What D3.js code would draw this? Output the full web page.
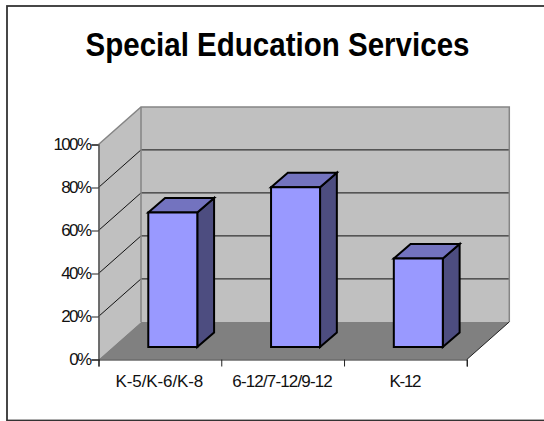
<!DOCTYPE html>
<html><head><meta charset="utf-8">
<script src="https://cdn.jsdelivr.net/npm/d3@7/dist/d3.min.js"></script>
<style>html,body{margin:0;padding:0;background:#fff}svg{display:block}text{font-family:"Liberation Sans",Arial,sans-serif}</style>
</head><body><svg id="c" width="544" height="421"></svg>
<script>
const titleText = "Special Education Services";
const categories = ["K-5/K-6/K-8", "6-12/7-12/9-12", "K-12"];
const values = [62.6, 74.3, 41.2];
const tickValues = [0, 20, 40, 60, 80, 100];

const svg = d3.select("#c");
const x = d3.scaleBand().domain(categories).range([98.5, 466.8]);
const y = d3.scaleLinear().domain([0, 100]).range([359.5, 144.5]);
const DX = 42.5, DY = -37.6;          // wall depth
const barW = 49, sX = 12.9, sY = -12.4, bDX = 16.8, bDY = -14.6;
const poly = (pts, fill, stroke, sw) => svg.append("polygon")
  .attr("points", pts.map(p => p.join(",")).join(" "))
  .attr("fill", fill).attr("stroke", stroke || "none").attr("stroke-width", sw || 0).attr("stroke-linejoin", "miter");

svg.append("rect").attr("x", 7).attr("y", 6).attr("width", 600).attr("height", 414.5)
  .attr("fill", "#fff").attr("stroke", "#333").attr("stroke-width", 1.8);

svg.append("text").attr("x", 277.5).attr("y", 56).attr("text-anchor", "middle")
  .attr("font-size", 33.5).attr("font-weight", "bold").attr("fill", "#000")
  .attr("textLength", 384).attr("lengthAdjust", "spacingAndGlyphs").text(titleText);

const x0 = x.range()[0], x1 = x.range()[1], y0 = y(0), yT = y(100);
// side wall, back wall, floor
poly([[x0,y0],[x0+DX,y0+DY],[x0+DX,yT+DY],[x0,yT]], "#c0c0c0");
poly([[x0+DX,y0+DY],[x1+DX,y0+DY],[x1+DX,yT+DY],[x0+DX,yT+DY]], "#c0c0c0");
poly([[x0,y0],[x1,y0],[x1+DX,y0+DY],[x0+DX,y0+DY]], "#808080");

// gridlines
tickValues.filter(d => d > 0 && d < 100).forEach(d => {
  svg.append("path").attr("fill", "none").attr("stroke", "#111").attr("stroke-width", 1)
    .attr("d", d3.line()([[x0,y(d)],[x0+DX,y(d)+DY],[x1+DX,y(d)+DY]]));
});
// wall edges
svg.append("path").attr("fill","none").attr("stroke","#858585").attr("stroke-width",1.5)
  .attr("d", d3.line()([[x0,yT],[x0+DX,yT+DY],[x1+DX,yT+DY],[x1+DX,y0+DY]]));
svg.append("line").attr("x1",x0+DX).attr("x2",x0+DX).attr("y1",yT+DY).attr("y2",y0+DY).attr("stroke","#858585").attr("stroke-width",1.5);
svg.append("path").attr("fill","none").attr("stroke","#222").attr("stroke-width",1)
  .attr("d", d3.line()([[x1,y0],[x1+DX,y0+DY]]));

// bars
categories.forEach((c, i) => {
  const l = x(c) + x.bandwidth()/2 - barW/2 + sX, r = l + barW, b = y0 + sY, t = y(values[i]) + sY;
  const S = "#000", W = 2;
  poly([[r,b],[r+bDX,b+bDY],[r+bDX,t+bDY],[r,t]], "#4d4d80", S, W);
  poly([[l,t],[r,t],[r+bDX,t+bDY],[l+bDX,t+bDY]], "#7373bf", S, W);
  poly([[l,b],[r,b],[r,t],[l,t]], "#9999ff", S, W);
});

// axes
const gy = svg.append("g").attr("transform", `translate(${x0},0)`)
  .call(d3.axisLeft(y).tickValues(tickValues).tickSize(7).tickPadding(1).tickFormat(d => d + "%"));
const gx = svg.append("g").attr("transform", `translate(0,${y0})`)
  .call(d3.axisBottom(d3.scaleLinear().domain([0,3]).range([x0,x1])).tickValues([0,1,2,3]).tickSize(7).tickFormat(""));
[gy, gx].forEach(g => { g.select(".domain").attr("stroke","#222").attr("stroke-width",1.2); g.selectAll("line").attr("stroke","#222"); });
gy.select(".domain").attr("stroke","#555").attr("stroke-width",1.6);
gy.selectAll("text").attr("font-size", 17).attr("fill", "#111").attr("letter-spacing", -1.6);
const labelTracking = d => d.length > 12 ? -0.85 : d.length < 6 ? -1.3 : -0.1;
categories.forEach(c => svg.append("text").attr("x", x(c)+x.bandwidth()/2 - 0.5).attr("y", 387)
  .attr("text-anchor","middle").attr("font-size",17).attr("letter-spacing",labelTracking(c)).attr("fill","#111").text(c));
</script></body></html>
